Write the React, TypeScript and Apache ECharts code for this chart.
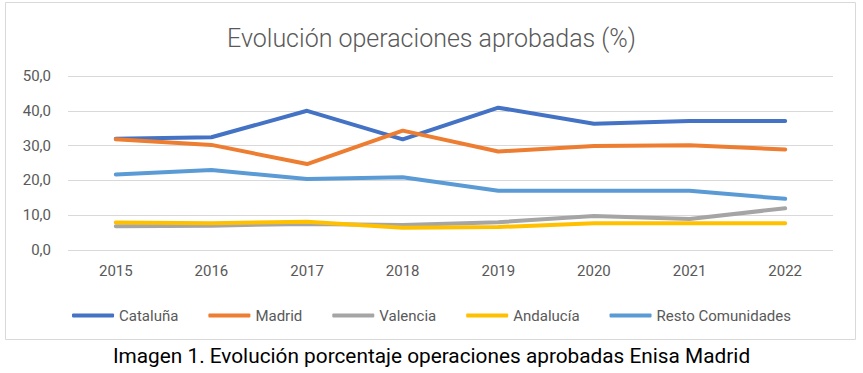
import React, { useEffect, useRef } from "react";
import * as echarts from "echarts";

const years = ["2015", "2016", "2017", "2018", "2019", "2020", "2021", "2022"];
const cataluna = [32.0, 32.4, 40.0, 31.8, 40.9, 36.3, 37.1, 37.1];
const madrid = [31.8, 30.2, 24.7, 34.3, 28.3, 29.9, 30.1, 28.9];
const valencia = [6.8, 7.0, 7.5, 7.2, 8.0, 9.8, 8.9, 12.0];
const andalucia = [7.9, 7.7, 8.1, 6.4, 6.6, 7.7, 7.7, 7.7];
const resto = [21.7, 23.0, 20.4, 20.9, 17.0, 17.0, 17.0, 14.7];

const seriesNames = ["Cataluña", "Madrid", "Valencia", "Andalucía", "Resto Comunidades"];
const seriesData = [cataluna, madrid, valencia, andalucia, resto];
const colors = ["#4472C4", "#ED7D31", "#A5A5A5", "#FFC000", "#5B9BD5"];

const titleText = "Evolución operaciones aprobadas (%)";
const captionText = "Imagen 1. Evolución porcentaje operaciones aprobadas Enisa Madrid";

const FONT = "Roboto";

export default function App() {
  const ref = useRef<HTMLDivElement>(null);
  useEffect(() => {
    if (!ref.current) return;
    const chart = echarts.init(ref.current, undefined, { renderer: "svg" });
    chart.setOption({
      animation: false,
      color: colors,
      title: {
        text: titleText,
        left: "center",
        top: 21,
        textStyle: { fontFamily: FONT, fontSize: 25, fontWeight: 300, color: "#595959" },
      },
      graphic: [
        {
          type: "rect",
          shape: { x: 5.5, y: 2.5, width: 850, height: 337 },
          style: { fill: "none", stroke: "#d9d9d9", lineWidth: 1 },
          silent: true,
        },
        {
          type: "text",
          left: "center",
          top: 345,
          style: { text: captionText, fontFamily: FONT, fontSize: 20.8, fill: "#000000" },
        },
      ],
      legend: {
        data: seriesNames,
        top: 303,
        left: "center",
        icon: "roundRect",
        itemWidth: 42,
        itemHeight: 4,
        itemGap: 30,
        textStyle: { fontFamily: FONT, fontSize: 15, color: "#595959" },
      },
      grid: { left: 68, right: 30, top: 76, bottom: 123, containLabel: false },
      xAxis: {
        type: "category",
        data: years,
        boundaryGap: true,
        axisLine: { show: false },
        axisTick: { show: false },
        axisLabel: { fontFamily: FONT, fontSize: 15, color: "#595959", margin: 13 },
      },
      yAxis: {
        type: "value",
        min: 0,
        max: 50,
        interval: 10,
        axisLine: { show: false },
        axisTick: { show: false },
        splitLine: { lineStyle: { color: "#d9d9d9", width: 1 } },
        axisLabel: {
          fontFamily: FONT,
          fontSize: 15,
          color: "#595959",
          margin: 17,
          formatter: (v: number) => v.toFixed(1).replace(".", ","),
        },
      },
      series: seriesNames.map((name, i) => ({
        name,
        type: "line",
        data: seriesData[i],
        showSymbol: false,
        symbol: "none",
        lineStyle: { width: 4, color: colors[i], cap: "round", join: "round" },
        itemStyle: { color: colors[i] },
      })),
    });
    return () => chart.dispose();
  }, []);
  return (
    <div
      ref={ref}
      style={{ position: "absolute", left: 0, top: 0, width: 863, height: 373, background: "#ffffff" }}
    />
  );
}
